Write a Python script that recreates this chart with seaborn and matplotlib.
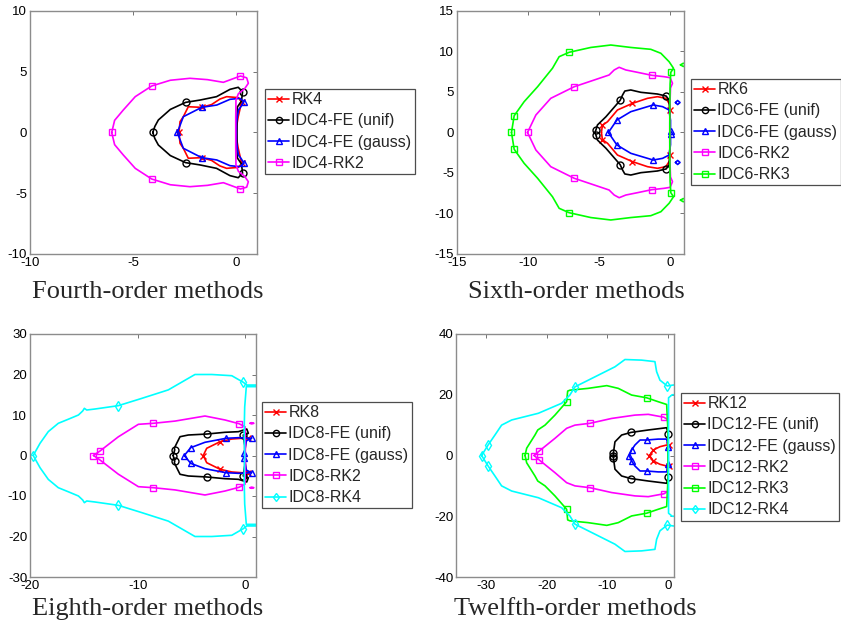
import numpy as np
import pandas as pd
import matplotlib
matplotlib.use("Agg")
import matplotlib.pyplot as plt
from matplotlib.lines import Line2D
import seaborn as sns

sns.set_theme(style="white")
plt.rcParams['font.family'] = ['Liberation Sans', 'DejaVu Sans']
plt.rcParams['axes.unicode_minus'] = False

# ---------------- data: upper halves (x, y) of each stability boundary ----------------
# Panel 1: fourth-order
rk4_x = [-2.78, -2.73, -2.57, -2.33, -1.68, -1.2, -0.8, -0.47, 0.09, 0.26, 0.22, 0.09, 0.02, 0.0]
rk4_y = [0.0, 0.89, 1.3, 2.12, 2.07, 2.3, 2.75, 2.95, 2.87, 2.55, 2.26, 1.3, 0.6, 0.0]
rk4_mk = [0, 4, 9]
idc4fe_u_x = [-4.05, -3.95, -3.78, -3.2, -2.46, -1.76, -0.96, -0.31, 0.09, 0.3, 0.25, 0.05, 0.03, 0.03]
idc4fe_u_y = [0.0, 0.5, 1.03, 1.9, 2.48, 2.67, 2.95, 3.55, 3.72, 3.36, 2.6, 2.1, 1.0, 0.0]
idc4fe_u_mk = [0, 4, 9]
idc4fe_g_x = [-2.86, -2.57, -1.68, -0.95, -0.31, 0.17, 0.37, 0.25, 0.1, 0.0, 0.0]
idc4fe_g_y = [0.0, 1.3, 2.07, 2.26, 2.73, 2.81, 2.54, 2.2, 1.85, 0.78, 0.0]
idc4fe_g_mk = [0, 2, 6]
idc4rk2_x = [-6.04, -5.9, -5.48, -4.9, -4.1, -3.2, -2.25, -1.4, -0.63, -0.2, 0.2, 0.5, 0.58, 0.4, 0.1, -0.02, -0.03, -0.03]
idc4rk2_y = [0.0, 1.0, 1.85, 2.95, 3.83, 4.3, 4.46, 4.35, 4.13, 4.4, 4.65, 4.5, 4.05, 3.6, 3.2, 2.67, 1.2, 0.0]
idc4rk2_mk = [0, 4, 10]

# Panel 2: sixth-order
rk6_x = [-4.82, -4.75, -4.39, -3.69, -2.63, -1.57, -0.87, -0.28, 0.02, 0.02, 0.0, 0.0]
rk6_y = [0.0, 0.9, 1.33, 2.78, 3.6, 4.22, 4.42, 4.22, 3.4, 2.8, 1.2, 0.0]
rk6_mk = [1, 4, 9]
idc6fe_u_x = [-5.28, -5.22, -5.1, -4.5, -3.5, -3.33, -3.17, -2.75, -2.04, -0.87, -0.26, -0.05, 0.0, 0.0]
idc6fe_u_y = [0.0, 0.25, 0.93, 1.95, 3.97, 4.63, 5.12, 5.25, 4.96, 4.75, 4.5, 4.0, 2.0, 0.0]
idc6fe_u_mk = [1, 4, 10]
idc6fe_g_x = [-4.33, -3.73, -2.75, -1.17, -0.51, -0.05, 0.05, 0.05, 0.05]
idc6fe_g_y = [0.0, 1.54, 2.57, 3.4, 3.19, 2.78, 1.5, 0.2, 0.0]
idc6fe_g_mk = [0, 1, 3, 7]
idc6rk2_x = [-10.03, -9.44, -8.39, -6.74, -5.33, -4.28, -3.92, -3.57, -3.1, -2.28, -1.27, -0.4, 0.02, 0.19, 0.05, 0.0, 0.0]
idc6rk2_y = [0.0, 2.16, 4.22, 5.65, 6.48, 7.1, 7.72, 8.05, 7.72, 7.43, 7.06, 6.89, 6.77, 6.07, 5.5, 3.0, 0.0]
idc6rk2_mk = [0, 3, 10]
idc6rk3_x = [-11.16, -10.97, -10.27, -9.32, -8.27, -7.8, -7.1, -5.57, -4.16, -2.75, -1.34, -0.63, -0.05, 0.26, 0.07, 0.02, 0.0, 0.0]
idc6rk3_y = [0.0, 2.07, 3.8, 5.65, 7.93, 9.36, 9.9, 10.5, 10.8, 10.5, 10.27, 9.78, 8.74, 7.93, 7.43, 6.0, 3.0, 0.0]
idc6rk3_mk = [0, 1, 6, 14]
# small separate loops near the imaginary axis (upper ones; mirrored below)
loop6_blue_x = [0.4, 0.55, 0.72, 0.55, 0.4]
loop6_blue_y = [3.7, 3.95, 3.7, 3.45, 3.7]
loop6_green_x = [0.75, 0.95, 1.2, 0.95, 0.75]
loop6_green_y = [8.35, 8.55, 8.35, 8.15, 8.35]

# Panel 3: eighth-order
rk8_x = [-3.9, -3.58, -2.34, -1.25, -0.33, 0.29, 0.05, 0.0, 0.0]
rk8_y = [0.0, 1.78, 3.4, 4.07, 4.25, 4.25, 3.5, 1.5, 0.0]
rk8_mk = [0, 2, 5]
idc8fe_u_x = [-6.7, -6.55, -6.59, -6.37, -6.06, -5.29, -3.58, -1.88, -0.64, 0.14, 0.29, -0.18, -0.05, -0.05]
idc8fe_u_y = [0.0, 1.4, 1.78, 3.0, 4.64, 5.06, 5.3, 5.73, 5.88, 6.54, 5.48, 5.06, 2.5, 0.0]
idc8fe_u_mk = [0, 1, 6, 11]
idc8fe_g_x = [-5.66, -5.07, -3.74, -1.78, -0.64, 0.6, 0.1, -0.08, -0.05]
idc8fe_g_y = [0.0, 1.93, 3.26, 4.25, 4.4, 4.25, 3.6, 0.54, 0.0]
idc8fe_g_mk = [0, 1, 3, 5, 7]
idc8rk2_x = [-14.1, -13.5, -11.8, -9.93, -8.54, -6.52, -3.74, -1.88, -0.58, -0.02, 0.0, 0.0]
idc8rk2_y = [0.0, 1.1, 4.6, 7.7, 7.95, 8.5, 9.75, 8.77, 7.85, 7.1, 3.0, 0.0]
idc8rk2_mk = [0, 1, 4, 8]
idc8rk4_x = [-19.7, -19.07, -18.3, -17.37, -16.4, -15.5, -15.1, -14.95, -14.73, -13.96, -11.8, -9.62, -7.15,
             -4.67, -3.1, -1.25, -0.18, 0.14, 1.5, 1.5, 0.1, -0.05, -0.1, -0.05]
idc8rk4_y = [0.0, 3.0, 5.9, 7.95, 9.0, 10.0, 11.0, 11.65, 11.23, 11.48, 12.3, 14.1, 16.2,
             20.0, 20.0, 19.7, 18.07, 17.4, 17.4, 17.0, 17.0, 12.0, 6.0, 0.0]
idc8rk4_mk = [0, 10, 16]
loop8_mag_x = [0.45, 0.6, 0.8, 0.6, 0.45]
loop8_mag_y = [7.95, 8.1, 7.95, 7.8, 7.95]

# Panel 4: twelfth-order
rk12_x = [-3.05, -2.42, -1.32, -0.21, 0.17, 0.05, 0.0, 0.0]
rk12_y = [0.0, 1.8, 2.9, 3.45, 3.45, 2.5, 1.0, 0.0]
rk12_mk = [0, 1, 4]
idc12fe_u_x = [-9.0, -9.0, -8.75, -7.65, -6.1, -3.25, -0.21, 0.05, 0.0, 0.0]
idc12fe_u_y = [0.0, 0.9, 4.5, 6.74, 7.6, 8.4, 9.15, 7.07, 3.0, 0.0]
idc12fe_u_mk = [0, 1, 4, 7]
idc12fe_g_x = [-6.4, -6.0, -5.45, -4.6, -3.52, -1.6, -0.21, 0.05, 0.05, 0.05]
idc12fe_g_y = [0.0, 1.8, 3.45, 5.1, 5.1, 5.4, 5.4, 2.9, 1.0, 0.0]
idc12fe_g_mk = [0, 1, 4, 7]
idc12rk2_x = [-22.1, -21.25, -18.66, -16.73, -15.36, -12.88, -9.3, -5.45, -3.25, -0.66, 0.05, 0.0, 0.0]
idc12rk2_y = [0.0, 1.48, 5.65, 8.95, 10.0, 10.6, 12.2, 13.3, 13.55, 12.6, 11.7, 5.0, 0.0]
idc12rk2_mk = [0, 1, 5, 9]
idc12rk3_x = [-23.6, -23.33, -21.96, -21.5, -20.3, -18.66, -16.73, -16.56, -16.2, -13.2, -10.1, -8.2, -6.0,
              -3.52, -1.6, -0.21, 0.0, 0.0]
idc12rk3_y = [0.0, 2.4, 6.74, 8.4, 10.0, 13.3, 17.7, 21.2, 21.5, 22.1, 23.0, 22.1, 19.9,
              19.0, 17.7, 16.8, 8.0, 0.0]
idc12rk3_mk = [0, 6, 13]
idc12rk4_x = [-30.77, -29.7, -28.57, -27.47, -25.8, -21.4, -17.55, -16.2, -15.36, -12.05, -8.75, -7.1, -4.35,
              -2.15, -1.87, -1.32, -0.12, 0.88, 1.5, 1.5, 0.7, 0.1, 0.1, 0.1]
idc12rk4_y = [0.0, 3.45, 6.74, 10.0, 11.7, 13.9, 17.2, 19.9, 22.6, 25.9, 29.2, 31.6, 31.4,
              30.9, 27.6, 24.8, 22.9, 23.2, 23.2, 20.0, 20.0, 19.0, 8.0, 0.0]
idc12rk4_mk = [0, 1, 8, 16]

# ---------------- styles ----------------
STY = {
    'rk':    dict(color=(1, 0, 0), marker='x'),
    'fe_u':  dict(color=(0, 0, 0), marker='o'),
    'fe_g':  dict(color=(0, 0, 1), marker='^'),
    'rk2':   dict(color=(1, 0, 1), marker='s'),
    'rk3':   dict(color=(0, 1, 0), marker='s'),
    'rk4':   dict(color=(0, 1, 1), marker='d'),
}

panels = [
    dict(rect=(30, 11, 257, 254), xlim=(-10, 1), ylim=(-10, 10), xt=[-10, -5, 0], yt=[-10, -5, 0, 5, 10],
         title="Fourth-order methods", tpos=(148, 292), leg=(265, 89),
         curves=[("RK4", 'rk', rk4_x, rk4_y, rk4_mk),
                 ("IDC4-FE (unif)", 'fe_u', idc4fe_u_x, idc4fe_u_y, idc4fe_u_mk),
                 ("IDC4-FE (gauss)", 'fe_g', idc4fe_g_x, idc4fe_g_y, idc4fe_g_mk),
                 ("IDC4-RK2", 'rk2', idc4rk2_x, idc4rk2_y, idc4rk2_mk)],
         loops=[]),
    dict(rect=(457, 11, 684, 254), xlim=(-15, 1), ylim=(-15, 15), xt=[-15, -10, -5, 0], yt=[-15, -10, -5, 0, 5, 10, 15],
         title="Sixth-order methods", tpos=(576, 292), leg=(691, 79),
         curves=[("RK6", 'rk', rk6_x, rk6_y, rk6_mk),
                 ("IDC6-FE (unif)", 'fe_u', idc6fe_u_x, idc6fe_u_y, idc6fe_u_mk),
                 ("IDC6-FE (gauss)", 'fe_g', idc6fe_g_x, idc6fe_g_y, idc6fe_g_mk),
                 ("IDC6-RK2", 'rk2', idc6rk2_x, idc6rk2_y, idc6rk2_mk),
                 ("IDC6-RK3", 'rk3', idc6rk3_x, idc6rk3_y, idc6rk3_mk)],
         loops=[('fe_g', loop6_blue_x, loop6_blue_y), ('rk3', loop6_green_x, loop6_green_y)]),
    dict(rect=(30, 334, 256, 577), xlim=(-20, 1), ylim=(-30, 30), xt=[-20, -10, 0], yt=[-30, -20, -10, 0, 10, 20, 30],
         title="Eighth-order methods", tpos=(148, 609), leg=(262, 402),
         curves=[("RK8", 'rk', rk8_x, rk8_y, rk8_mk),
                 ("IDC8-FE (unif)", 'fe_u', idc8fe_u_x, idc8fe_u_y, idc8fe_u_mk),
                 ("IDC8-FE (gauss)", 'fe_g', idc8fe_g_x, idc8fe_g_y, idc8fe_g_mk),
                 ("IDC8-RK2", 'rk2', idc8rk2_x, idc8rk2_y, idc8rk2_mk),
                 ("IDC8-RK4", 'rk4', idc8rk4_x, idc8rk4_y, idc8rk4_mk)],
         loops=[('rk2', loop8_mag_x, loop8_mag_y)]),
    dict(rect=(456, 334, 674, 577), xlim=(-35, 1), ylim=(-40, 40), xt=[-30, -20, -10, 0], yt=[-40, -20, 0, 20, 40],
         title="Twelfth-order methods", tpos=(575, 609), leg=(681, 393),
         curves=[("RK12", 'rk', rk12_x, rk12_y, rk12_mk),
                 ("IDC12-FE (unif)", 'fe_u', idc12fe_u_x, idc12fe_u_y, idc12fe_u_mk),
                 ("IDC12-FE (gauss)", 'fe_g', idc12fe_g_x, idc12fe_g_y, idc12fe_g_mk),
                 ("IDC12-RK2", 'rk2', idc12rk2_x, idc12rk2_y, idc12rk2_mk),
                 ("IDC12-RK3", 'rk3', idc12rk3_x, idc12rk3_y, idc12rk3_mk),
                 ("IDC12-RK4", 'rk4', idc12rk4_x, idc12rk4_y, idc12rk4_mk)],
         loops=[]),
]

W, H = 841, 632
fig = plt.figure(figsize=(W / 100, H / 100), dpi=100)
fig.patch.set_facecolor('white')

LW = 1.2
MS = 5.0


def full_curve(xs, ys, mk):
    """Closed boundary from the upper half and its mirror image (regions are symmetric)."""
    n = len(xs)
    fx = list(xs) + list(xs[::-1][1:])
    fy = list(ys) + [-v for v in ys[::-1][1:]]
    fm = sorted(set(list(mk) + [2 * (n - 1) - i for i in mk if i != 0]))
    return fx, fy, fm


for p in panels:
    l, t, r, b = p['rect']
    ax = fig.add_axes([l / W, 1 - b / H, (r - l) / W, (b - t) / H])
    handles = []
    for label, key, xs, ys, mk in p['curves']:
        st = STY[key]
        fx, fy, fm = full_curve(xs, ys, mk)
        df = pd.DataFrame({'x': fx, 'y': fy})
        sns.lineplot(data=df, x='x', y='y', sort=False, estimator=None, ax=ax, color=st['color'],
                     lw=LW, marker=st['marker'], markevery=fm, markersize=MS,
                     markerfacecolor='none', markeredgecolor=st['color'], markeredgewidth=1.0,
                     legend=False)
        handles.append(Line2D([], [], color=st['color'], lw=LW, marker=st['marker'], markersize=4.5,
                              markerfacecolor='none', markeredgecolor=st['color'], markeredgewidth=1.0,
                              label=label))
    for key, xs, ys in p['loops']:
        st = STY[key]
        for sgn in (1, -1):
            df = pd.DataFrame({'x': xs, 'y': [sgn * v for v in ys]})
            sns.lineplot(data=df, x='x', y='y', sort=False, estimator=None, ax=ax, color=st['color'],
                         lw=LW, legend=False)
    ax.set_xlim(*p['xlim'])
    ax.set_ylim(*p['ylim'])
    ax.set_xticks(p['xt'])
    ax.set_yticks(p['yt'])
    ax.set_xlabel('')
    ax.set_ylabel('')
    ax.tick_params(direction='in', length=3, width=0.7, colors=(0.45, 0.45, 0.45), labelcolor='black',
                   labelsize=9.5, top=True, right=True, pad=2)
    for s in ax.spines.values():
        s.set_visible(True)
        s.set_color((0.55, 0.55, 0.55))
        s.set_linewidth(1.0)
    ax.grid(False)
    lx, ly = p['leg']
    leg = ax.legend(handles=handles, loc='upper left', bbox_to_anchor=(lx / W, 1 - ly / H),
                    bbox_transform=fig.transFigure, borderaxespad=0, fontsize=11.5, frameon=True,
                    fancybox=False, framealpha=1, edgecolor=(0.3, 0.3, 0.3), handlelength=1.3,
                    handletextpad=0.15, labelspacing=0.39, borderpad=0.2, numpoints=1)
    leg.get_frame().set_linewidth(0.9)
    tx, ty = p['tpos']
    fig.text(tx / W, 1 - ty / H, p['title'], ha='center', va='center', fontsize=19,
             family=['Liberation Serif', 'DejaVu Serif'])

fig.savefig('out.png', dpi=100, facecolor='white')
